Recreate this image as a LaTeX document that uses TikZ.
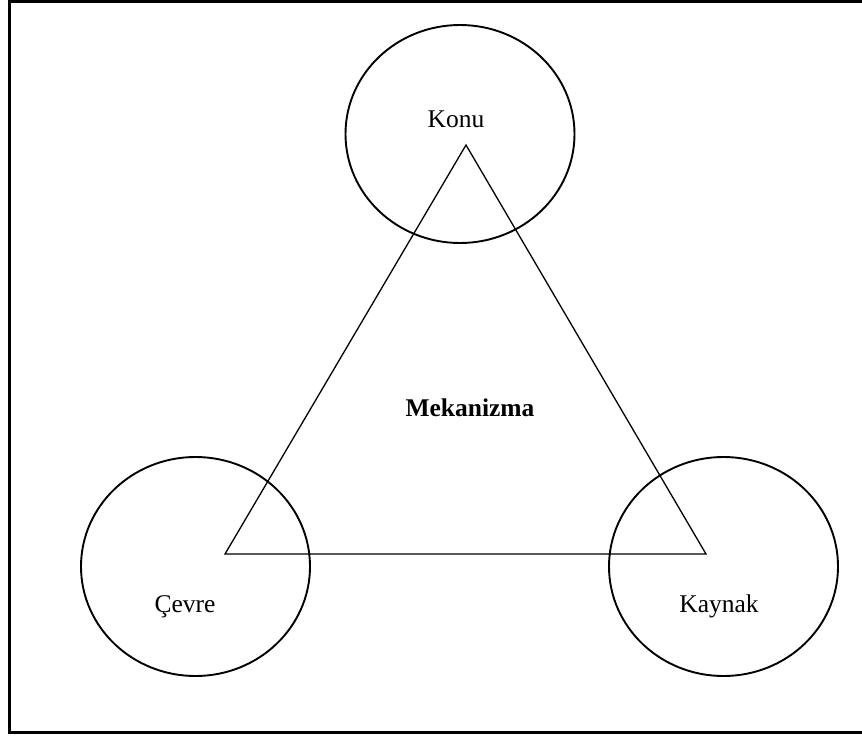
\documentclass[tikz,border=0pt]{standalone}
\usepackage{fontspec}
\setmainfont{Liberation Serif}
\usetikzlibrary{shapes.geometric}
\begin{document}
\begin{tikzpicture}[x=1pt,y=-1pt,
  circ/.style={draw,ellipse,line width=1.9pt,inner sep=0pt},
  lbl/.style={anchor=base,inner sep=0pt,font=\fontsize{25.5}{30}\selectfont},
  tri/.style={line width=1.3pt,line join=miter},
  frame/.style={line width=2.2pt}]
\useasboundingbox (0,0) rectangle (862,736);
\node[circ,minimum width=229pt,minimum height=218pt] (konu) at (460,134) {};
\node[circ,minimum width=229pt,minimum height=219pt] (cevre) at (195.5,566.5) {};
\node[circ,minimum width=229pt,minimum height=219pt] (kaynak) at (723.5,566.5) {};
\coordinate (A) at (466,145);
\coordinate (B) at (225,554);
\coordinate (C) at (706,554);
\draw[tri] (A) -- (B) -- (C) -- cycle;
\node[lbl] (tkonu) at (456,127) {Konu};
\node[lbl] (tcevre) at (185,612) {Çevre};
\node[lbl] (tkaynak) at (719,612) {Kaynak};
\node[lbl,font=\fontsize{25.5}{30}\selectfont\bfseries] (tmek) at (470,416.7) {Mekanizma};
\coordinate (f1) at (870,1.5);
\coordinate (f2) at (9.5,1.5);
\coordinate (f3) at (9.5,732.5);
\coordinate (f4) at (870,732.5);
\draw[frame] (f1) -- (f2) -- (f3) -- (f4);
\end{tikzpicture}
\end{document}
